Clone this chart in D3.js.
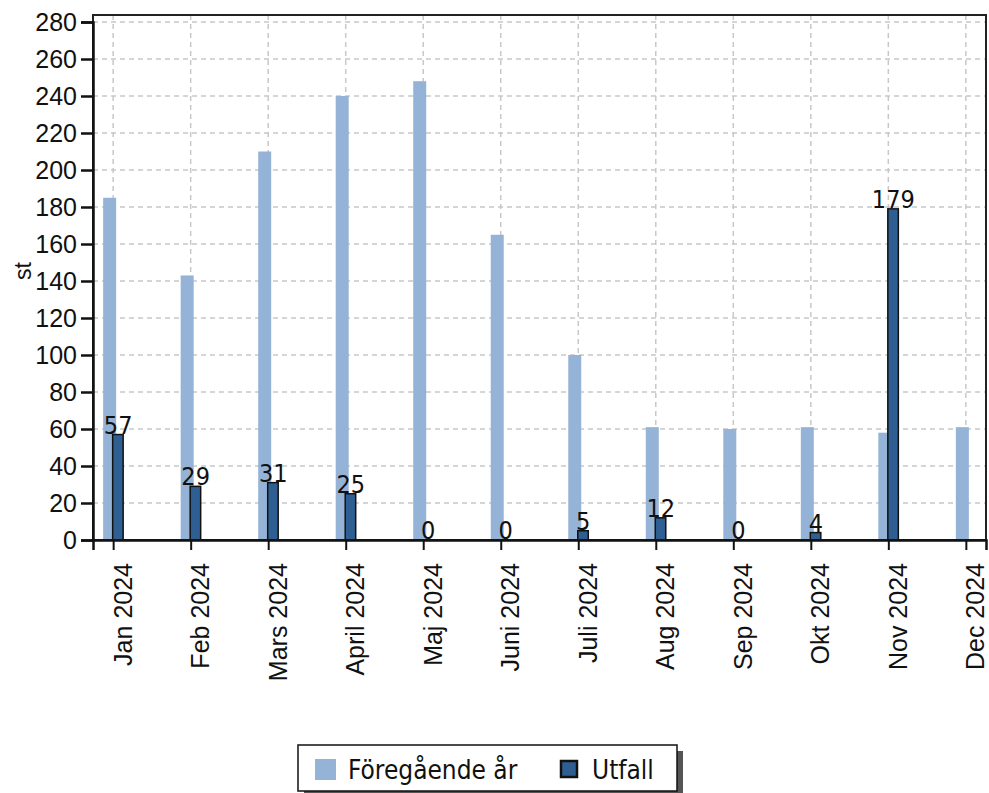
<!DOCTYPE html>
<html><head><meta charset="utf-8">
<script src="https://cdn.jsdelivr.net/npm/d3@7/dist/d3.min.js"></script>
<style>body{margin:0;background:#fff;} svg{display:block;}</style>
</head><body>
<svg id="chart" width="989" height="793"></svg>
<script>
const categories = ["Jan 2024","Feb 2024","Mars 2024","April 2024","Maj 2024","Juni 2024","Juli 2024","Aug 2024","Sep 2024","Okt 2024","Nov 2024","Dec 2024"];
const previousYear = [185,143,210,240,248,165,100,61,60,61,58,61];
const outcome = [57,29,31,25,0,0,5,12,0,4,179,null];
const yTicks = [0,20,40,60,80,100,120,140,160,180,200,220,240,260,280];
const seriesNames = ["Föregående år","Utfall"];

const svg = d3.select("#chart");
const L = 93, R = 986, T = 15, B = 540;
const x = d3.scalePoint().domain(categories).range([L, R]).padding(0.26);
const y = d3.scaleLinear().domain([0, 280]).range([B, 22]);
const labelFont = "DejaVu Sans Condensed, DejaVu Sans, sans-serif";
const axisFont = "Liberation Sans, Arial, sans-serif";

// grid
const grid = svg.append("g");
grid.selectAll("line.h").data(yTicks.slice(1)).enter().append("line")
  .attr("x1", L).attr("x2", R).attr("y1", d => y(d)).attr("y2", d => y(d))
  .attr("stroke", "#c8c8c8").attr("stroke-width", 1.5).attr("stroke-dasharray", "5,4");
grid.selectAll("line.v").data(categories).enter().append("line")
  .attr("x1", d => x(d)).attr("x2", d => x(d)).attr("y1", T).attr("y2", B)
  .attr("stroke", "#c8c8c8").attr("stroke-width", 1.5).attr("stroke-dasharray", "5,4");

// previous year bars
svg.append("g").selectAll("rect").data(categories).enter().append("rect")
  .attr("x", d => x(d) - 10).attr("width", 13)
  .attr("y", (d,i) => y(previousYear[i])).attr("height", (d,i) => B - y(previousYear[i]))
  .attr("fill", "#95b3d7");

// outcome bars
const oc = categories.map((c,i) => ({c, v: outcome[i]})).filter(d => d.v !== null);
svg.append("g").selectAll("rect").data(oc.filter(d => d.v > 0)).enter().append("rect")
  .attr("x", d => x(d.c) - 0.5).attr("width", 10.5)
  .attr("y", d => y(d.v)).attr("height", d => B - y(d.v))
  .attr("fill", "#2f5f92").attr("stroke", "#111").attr("stroke-width", 1.5);

svg.append("g").selectAll("text").data(oc).enter().append("text")
  .attr("x", d => x(d.c) + 5).attr("y", d => y(d.v) - 1)
  .attr("text-anchor", "middle")
  .attr("font-family", labelFont).attr("font-size", 25)
  .attr("fill", "#111").text(d => d.v);

// frame
svg.append("rect").attr("x", L).attr("y", T).attr("width", R - L).attr("height", B - T)
  .attr("fill", "none").attr("stroke", "#222").attr("stroke-width", 2);

// y axis
const ya = svg.append("g").attr("transform", `translate(${L},0)`)
  .call(d3.axisLeft(y).tickValues(yTicks).tickSize(12).tickPadding(4));
ya.select(".domain").attr("stroke", "#111").attr("stroke-width", 2.5);
ya.selectAll(".tick line").attr("stroke", "#111").attr("stroke-width", 2.5);
ya.selectAll("text").attr("font-family", axisFont).attr("font-size", 25).attr("fill", "#111");

// x axis
const xa = svg.append("g").attr("transform", `translate(0,${B})`)
  .call(d3.axisBottom(x).tickSize(10).tickPadding(5));
xa.select(".domain").attr("stroke", "#111").attr("stroke-width", 2.5);
xa.selectAll(".tick line").attr("stroke", "#111").attr("stroke-width", 2);
xa.selectAll("text").attr("font-family", axisFont).attr("font-size", 25).attr("fill", "#111")
  .attr("transform", "rotate(-90)").attr("text-anchor", "end")
  .attr("x", -23).attr("y", 18).attr("dy", 0);

// y title
svg.append("text").attr("transform", "translate(31,271) rotate(-90)")
  .attr("text-anchor", "middle").attr("font-family", axisFont)
  .attr("font-size", 23).attr("fill", "#111").text("st");

// legend
const lg = svg.append("g");
lg.append("rect").attr("x", 304).attr("y", 751).attr("width", 379).attr("height", 46).attr("fill", "#555");
lg.append("rect").attr("x", 298).attr("y", 745).attr("width", 379).attr("height", 46)
  .attr("fill", "#fff").attr("stroke", "#111").attr("stroke-width", 1.5);
lg.append("rect").attr("x", 315).attr("y", 759).attr("width", 21).attr("height", 21).attr("fill", "#95b3d7");
lg.append("text").attr("x", 348).attr("y", 779).attr("font-family", labelFont)
  .attr("font-size", 26).attr("fill", "#111").text(seriesNames[0]);
lg.append("rect").attr("x", 561).attr("y", 761).attr("width", 16).attr("height", 16)
  .attr("fill", "#2f5f92").attr("stroke", "#111").attr("stroke-width", 2.5);
lg.append("text").attr("x", 592).attr("y", 779).attr("font-family", labelFont)
  .attr("font-size", 26).attr("fill", "#111").text(seriesNames[1]);
</script>
</body></html>
